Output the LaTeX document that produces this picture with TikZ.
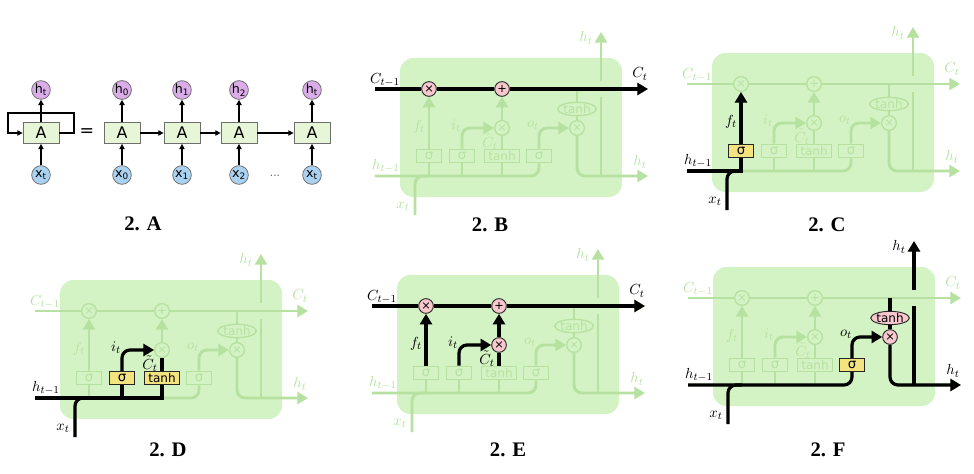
\documentclass[tikz,border=0pt]{standalone}
\usepackage{fontspec}
\setmainfont{Liberation Serif}
\newfontfamily\dvs{DejaVu Sans}
\usetikzlibrary{arrows.meta,shapes.geometric}

\definecolor{cellbg}{RGB}{212,243,196}
\definecolor{faded}{RGB}{182,225,160}
\definecolor{pinkf}{RGB}{248,200,206}
\definecolor{yellowf}{RGB}{244,228,128}
\definecolor{hfill}{RGB}{218,172,232}
\definecolor{xfill}{RGB}{170,210,240}
\definecolor{afill}{RGB}{230,246,214}
\definecolor{aborder}{RGB}{110,110,110}

\tikzset{
  fl/.style={draw=faded, line width=2.2pt},
  hl/.style={draw=black, line width=2.4pt},
  arr/.style={-{Triangle[length=8pt,width=9pt]}},
  rc/.style={rounded corners=6pt},
  gate/.style={circle, draw=faded, fill=cellbg, line width=1pt, inner sep=0pt,
    minimum size=11pt, text=faded, font=\dvs\fontsize{8.5}{8.5}\selectfont},
  gatehl/.style={draw=black!85, fill=pinkf, line width=0.7pt, text=black},
  sbox/.style={rectangle, draw=faded, fill=cellbg, line width=1pt, inner sep=0pt,
    minimum width=19pt, minimum height=10pt, text=faded, font=\dvs\fontsize{10}{10}\selectfont},
  tbox/.style={sbox, minimum width=26pt, font=\dvs\fontsize{9}{9}\selectfont},
  boxhl/.style={draw=black!85, fill=yellowf, line width=0.7pt, text=black},
  tanhop/.style={ellipse, draw=faded, fill=cellbg, line width=1pt, inner sep=0pt,
    minimum width=25pt, minimum height=10pt, text=faded, font=\dvs\fontsize{9}{9}\selectfont},
  lab/.style={text=faded, inner sep=0pt, font=\fontsize{11}{13}\selectfont},
  on/.style={text=black},
  caption/.style={font=\bfseries\fontsize{15.5}{16}\selectfont},
  abox/.style={rectangle, draw=aborder, fill=afill, line width=0.6pt, minimum width=27pt,
    minimum height=15.75pt, inner sep=0pt, font=\dvs\fontsize{12}{12}\selectfont},
  hcirc/.style={circle, draw=aborder, fill=hfill, line width=0.6pt, minimum size=14pt,
    inner sep=0pt, font=\dvs\fontsize{9.5}{9.5}\selectfont},
  xcirc/.style={hcirc, fill=xfill},
  aarr/.style={line width=0.9pt, -{Triangle[length=4pt,width=4pt]}},
  % per-element hooks, empty unless a panel highlights that element
  Nfx/.style={}, Nadd/.style={}, Nix/.style={}, Nox/.style={}, Nth/.style={},
  Nsf/.style={}, Nsi/.style={}, Ntc/.style={}, Nso/.style={},
  Lct1/.style={}, Lct/.style={}, Lht1/.style={}, Lhtr/.style={}, Lhtt/.style={},
  Lxt/.style={}, Lft/.style={}, Lit/.style={}, Lctil/.style={}, Lot/.style={},
}

% One LSTM cell in the faded colours; #1 prefixes every name
\newcommand\lstmcell[1]{%
  \fill[cellbg, rounded corners=10pt] (0,0) rectangle (222,139);
  \coordinate (#1cin) at (-25,31);
  \coordinate (#1cout) at (248,31);
  \coordinate (#1hin) at (-25,118);
  \coordinate (#1hout) at (248,118);
  \coordinate (#1xin) at (15,157);
  \coordinate (#1htop) at (201,-26);
  \coordinate (#1hj) at (201,118);
  \coordinate (#1gapb) at (201,39);
  \coordinate (#1gapt) at (201,23);
  \coordinate (#1ctap) at (177,31);
  \node[gate,Nfx] (#1fx) at (29,31) {×};
  \node[gate,Nadd] (#1add) at (102,31) {+};
  \node[gate,Nix] (#1ix) at (102,70) {×};
  \node[gate,Nox] (#1ox) at (177,70) {×};
  \node[tanhop,Nth] (#1th) at (177,51) {tanh};
  \node[sbox,Nsf] (#1sf) at (29,98) {σ};
  \node[sbox,Nsi] (#1si) at (62,98) {σ};
  \node[tbox,Ntc] (#1tc) at (102,98) {tanh};
  \node[sbox,Nso] (#1so) at (139,98) {σ};
  % cell state line
  \draw[fl] (#1cin) -- (#1fx.west);
  \draw[fl] (#1fx.east) -- (#1add.west);
  \draw[fl,arr] (#1add.east) -- (#1cout);
  % hidden state output
  \draw[fl] (#1hj) -- (#1gapb);
  \draw[fl,arr] (#1gapt) -- (#1htop);
  \draw[fl] (#1ctap) -- (#1th.north);
  \draw[fl] (#1th.south) -- (#1ox.north);
  \draw[fl,rc,arr] (#1ox.south) -- (#1ox.south |- #1hout) -- (#1hout);
  % inputs
  \draw[fl,rc] (#1hin) -- (#1hin -| #1so.south) -- (#1so.south);
  \draw[fl,rc] (#1xin) -- (#1xin |- #1hin) -- (#1sf.south |- #1hin);
  \draw[fl,rc,arr] (#1so.north) -- (#1so.north |- #1ox) -- (#1ox.west);
  % gates
  \draw[fl] (#1sf.south |- #1hin) -- (#1sf.south);
  \draw[fl,arr] (#1sf.north) -- (#1fx.south);
  \draw[fl] (#1si.south |- #1hin) -- (#1si.south);
  \draw[fl,rc,arr] (#1si.north) -- (#1si.north |- #1ix) -- (#1ix.west);
  \draw[fl] (#1tc.south |- #1hin) -- (#1tc.south);
  \draw[fl] (#1tc.north) -- (#1ix.south);
  \draw[fl,arr] (#1ix.north) -- (#1add.south);
  % labels
  \node[lab,Lct1] (#1lct1) at (-15,22) {$C_{t-1}$};
  \node[lab,Lct] (#1lct) at (240,16) {$C_t$};
  \node[lab,Lht1] (#1lht1) at (-14,108) {$h_{t-1}$};
  \node[lab,Lhtr] (#1lhtr) at (240,104) {$h_t$};
  \node[lab,Lhtt] (#1lhtt) at (186,-20) {$h_t$};
  \node[lab,Lxt] (#1lxt) at (3,148) {$x_t$};
  \node[lab,Lft] (#1lft) at (19,69) {$f_t$};
  \node[lab,Lit] (#1lit) at (56,68) {$i_t$};
  \node[lab,Lctil] (#1lctil) at (90,84) {$\tilde{C}_t$};
  \node[lab,Lot] (#1lot) at (133,67) {$o_t$};
}

\begin{document}
\begin{tikzpicture}[x=0.75pt,y=-0.75pt]
\useasboundingbox (0,0) rectangle (974,474);

% ---------- 2. A : recurrent network and its unrolled form ----------
\node[abox] (A0) at (41,133) {A};
\node[hcirc] (h0) at (41,90) {h\textsubscript{t}};
\node[xcirc] (x0) at (41,175) {x\textsubscript{t}};
\draw[aarr] (x0) -- (A0);
\draw[aarr] (A0) -- (h0);
\draw[aarr] (A0.east) -- (74,133) -- (74,113) -- (8,113) -- (8,133) -- (A0.west);
\node[font=\dvs\fontsize{13}{13}\selectfont] (eq) at (87,133) {=};
\foreach \i/\xx/\hs/\xs in {1/122/0/0,2/182/1/1,3/239/2/2,4/312/t/t}{
  \node[abox] (A\i) at (\xx,133) {A};
  \node[hcirc] (h\i) at (\xx,90) {h\textsubscript{\hs}};
  \node[xcirc] (x\i) at (\xx,175) {x\textsubscript{\xs}};
  \draw[aarr] (x\i) -- (A\i);
  \draw[aarr] (A\i) -- (h\i);
}
\draw[aarr] (A1) -- (A2);
\draw[aarr] (A2) -- (A3);
\draw[aarr] (A3) -- (A4);
\node[text=black!60, font=\dvs\fontsize{8}{8}\selectfont] (dots) at (275,176) {...};
\node[caption] (capA) at (143,224) {2. A};

% ---------- 2. B : cell state ----------
\begin{scope}[shift={(400,58)}, Nfx/.style={gatehl}, Nadd/.style={gatehl},
    Lct1/.style={on}, Lct/.style={on}]
\lstmcell{B}
\draw[hl] (Bcin) -- (Bfx.west);
\draw[hl] (Bfx.east) -- (Badd.west);
\draw[hl,arr] (Badd.east) -- (Bcout);
\end{scope}
\node[caption] (capB) at (490,225) {2. B};

% ---------- 2. C : forget gate ----------
\begin{scope}[shift={(712,53)}, Nsf/.style={boxhl},
    Lht1/.style={on}, Lxt/.style={on}, Lft/.style={on}]
\lstmcell{C}
\draw[hl] (Chin) -- (Csf.south |- Chin) -- (Csf.south);
\draw[hl,rc] (Cxin) -- (Cxin |- Chin) -- (Csf.south |- Chin);
\draw[hl,arr] (Csf.north) -- (Cfx.south);
\end{scope}
\node[caption] (capC) at (827,225) {2. C};

% ---------- 2. D : input gate and candidate ----------
\begin{scope}[shift={(60,280)}, Nsi/.style={boxhl}, Ntc/.style={boxhl},
    Lht1/.style={on}, Lxt/.style={on}, Lit/.style={on}, Lctil/.style={on}]
\lstmcell{D}
\draw[hl] (Dhin) -- (Dtc.south |- Dhin) -- (Dtc.south);
\draw[hl,rc] (Dxin) -- (Dxin |- Dhin) -- (Dsf.south |- Dhin);
\draw[hl] (Dsi.south |- Dhin) -- (Dsi.south);
\draw[hl,rc,arr] (Dsi.north) -- (Dsi.north |- Dix) -- (Dix.west);
\draw[hl] (Dtc.north) -- (Dix.south);
\end{scope}
\node[caption] (capD) at (168,450) {2. D};

% ---------- 2. E : cell state update ----------
\begin{scope}[shift={(397,275)}, Nfx/.style={gatehl}, Nadd/.style={gatehl}, Nix/.style={gatehl},
    Lct1/.style={on}, Lct/.style={on}, Lft/.style={on}, Lit/.style={on}, Lctil/.style={on}]
\lstmcell{E}
\draw[hl] (Ecin) -- (Efx.west);
\draw[hl] (Efx.east) -- (Eadd.west);
\draw[hl,arr] (Eadd.east) -- (Ecout);
\draw[hl,arr] (Esf.north) -- (Efx.south);
\draw[hl,rc,arr] (Esi.north) -- (Esi.north |- Eix) -- (Eix.west);
\draw[hl] (Etc.north) -- (Eix.south);
\draw[hl,arr] (Eix.north) -- (Eadd.south);
\end{scope}
\node[caption] (capE) at (508,450) {2. E};

% ---------- 2. F : output gate ----------
\begin{scope}[shift={(713,267)}, Nso/.style={boxhl}, Nox/.style={gatehl}, Nth/.style={gatehl},
    Lht1/.style={on}, Lxt/.style={on}, Lot/.style={on}, Lhtr/.style={on}, Lhtt/.style={on}]
\lstmcell{F}
\draw[hl,rc] (Fhin) -- (Fhin -| Fso.south) -- (Fso.south);
\draw[hl,rc] (Fxin) -- (Fxin |- Fhin) -- (Fsf.south |- Fhin);
\draw[hl,rc,arr] (Fso.north) -- (Fso.north |- Fox) -- (Fox.west);
\draw[hl] (Fctap) -- (Fth.north);
\draw[hl] (Fth.south) -- (Fox.north);
\draw[hl,rc,arr] (Fox.south) -- (Fox.south |- Fhout) -- (Fhout);
\draw[hl] (Fhj) -- (Fgapb);
\draw[hl,arr] (Fgapt) -- (Fhtop);
\end{scope}
\node[caption] (capF) at (828,450) {2. F};
\end{tikzpicture}
\end{document}
